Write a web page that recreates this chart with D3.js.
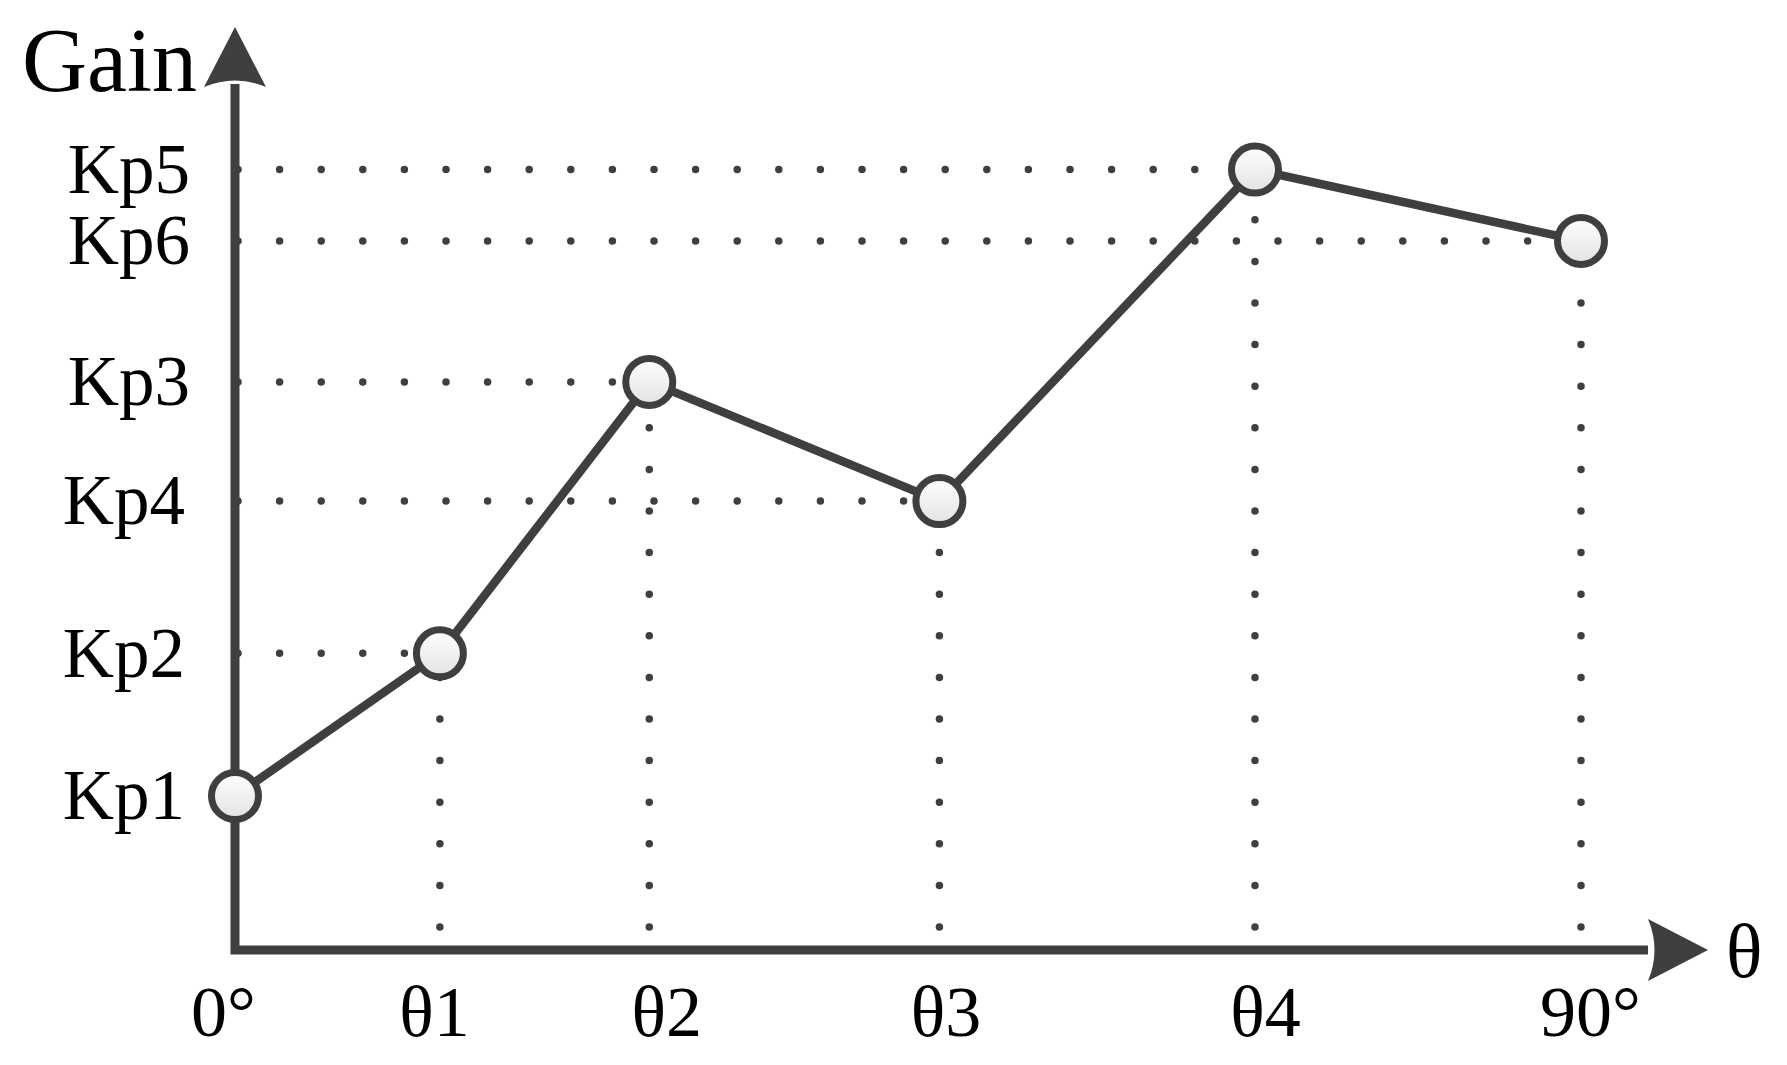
<!DOCTYPE html>
<html>
<head>
<meta charset="utf-8">
<script src="https://cdn.jsdelivr.net/npm/d3@7"></script>
<style>
  body { margin: 0; background: #fff; }
  svg { display: block; }
</style>
</head>
<body>
<div id="chart"></div>
<script>
// angle breakpoints (deg) and their labels
var angleLabels = ["0°", "θ1", "θ2", "θ3", "θ4", "90°"];
var angles = [0, 13.7, 27.7, 47.1, 68.2, 90];

// gain at each breakpoint (arbitrary units)
var gainLabels = ["Kp1", "Kp2", "Kp3", "Kp4", "Kp5", "Kp6"];
var gains = [1.77, 3.41, 6.53, 5.16, 8.97, 8.15];

var svgWidth = 1787;
var svgHeight = 1065;
var ink = "#3f3f3f";
var serif = "'Liberation Serif', 'Times New Roman', serif";

// small nudges so labels sit like in the original drawing
var xLabelShift = [-12, -6, 17, 6, 10, 9];
var yLabelShift = [-5, -5, 0, -5, 0, 0];

var svg = d3.select("#chart")
  .append("svg")
  .attr("width", svgWidth)
  .attr("height", svgHeight);

svg.append("rect")
  .attr("width", svgWidth)
  .attr("height", svgHeight)
  .attr("fill", "#fff");

var defs = svg.append("defs");
var grad = defs.append("linearGradient")
  .attr("id", "ball")
  .attr("x1", 0).attr("y1", 0)
  .attr("x2", 0).attr("y2", 1);
grad.append("stop").attr("offset", "0%").attr("stop-color", "#ffffff");
grad.append("stop").attr("offset", "100%").attr("stop-color", "#e2e2e2");

// scales
var xScale = d3.scaleLinear().domain([0, 90]).range([235, 1581]);
var yScale = d3.scaleLinear().domain([0, 10]).range([950, 80]);

var x0 = xScale(0);
var y0 = yScale(0);

var pts = angles.map(function(a, i) {
  return { a: a, g: gains[i] };
});

// dotted guides
var dotted = svg.append("g")
  .attr("stroke", ink)
  .attr("stroke-width", 7.5)
  .attr("stroke-linecap", "round")
  .attr("stroke-dasharray", "0 41.6")
  .attr("fill", "none");

// horizontal: from axis to the point
dotted.selectAll("line.h")
  .data(pts.filter(function(d) { return d.a > 0; }))
  .enter()
  .append("line")
  .attr("class", "h")
  .attr("x1", x0 + 3)
  .attr("x2", d => xScale(d.a))
  .attr("y1", d => yScale(d.g))
  .attr("y2", d => yScale(d.g));

// vertical: from the point down to the axis
dotted.selectAll("line.v")
  .data(pts.filter(function(d) { return d.a > 0; }))
  .enter()
  .append("line")
  .attr("class", "v")
  .attr("x1", d => xScale(d.a))
  .attr("x2", d => xScale(d.a))
  .attr("y1", y0 - 23)
  .attr("y2", d => yScale(d.g));

// axes lines
svg.append("path")
  .attr("d", `M${x0},84 V${y0} H1648`)
  .attr("fill", "none")
  .attr("stroke", ink)
  .attr("stroke-width", 9)
  .attr("stroke-linejoin", "miter");

// arrow heads
var arrow = "M0,0 L31,60 Q0,47 -31,60 Z";
svg.append("path")
  .attr("d", arrow)
  .attr("transform", `translate(${x0},27)`)
  .attr("fill", ink);
svg.append("path")
  .attr("d", arrow)
  .attr("transform", `translate(1708,${y0}) rotate(90)`)
  .attr("fill", ink);

// tick labels via d3 axes
var bottomAxis = d3.axisBottom(xScale)
  .tickValues(angles)
  .tickFormat((d, i) => angleLabels[i])
  .tickSize(0)
  .tickPadding(35);

var leftAxis = d3.axisLeft(yScale)
  .tickValues(gains)
  .tickFormat((d, i) => gainLabels[i])
  .tickSize(0)
  .tickPadding(45);

var gx = svg.append("g")
  .attr("transform", `translate(0, ${y0})`)
  .call(bottomAxis);
gx.select(".domain").remove();
gx.attr("font-family", serif).attr("font-size", 72).style("color", "#000");
gx.selectAll(".tick text").attr("dx", (d, i) => xLabelShift[i]);

var gy = svg.append("g")
  .attr("transform", `translate(${x0}, 0)`)
  .call(leftAxis);
gy.select(".domain").remove();
gy.attr("font-family", serif).attr("font-size", 71).style("color", "#000");
gy.selectAll(".tick text").attr("dx", (d, i) => yLabelShift[i]);

// gain curve
var line = d3.line()
  .x(d => xScale(d.a))
  .y(d => yScale(d.g));

svg.append("path")
  .datum(pts)
  .attr("d", line)
  .attr("fill", "none")
  .attr("stroke", ink)
  .attr("stroke-width", 8.5)
  .attr("stroke-linejoin", "round");

svg.selectAll("circle.pt")
  .data(pts)
  .enter()
  .append("circle")
  .attr("class", "pt")
  .attr("cx", d => xScale(d.a))
  .attr("cy", d => yScale(d.g))
  .attr("r", 23.5)
  .attr("fill", "url(#ball)")
  .attr("stroke", ink)
  .attr("stroke-width", 7);

// axis titles
svg.append("text")
  .attr("x", 22)
  .attr("y", 91)
  .attr("font-family", serif)
  .attr("font-size", 90)
  .attr("fill", "#000")
  .text("Gain");

svg.append("text")
  .attr("x", 1726)
  .attr("y", 977)
  .attr("font-family", serif)
  .attr("font-size", 76)
  .attr("fill", "#000")
  .text("θ");
</script>
</body>
</html>
